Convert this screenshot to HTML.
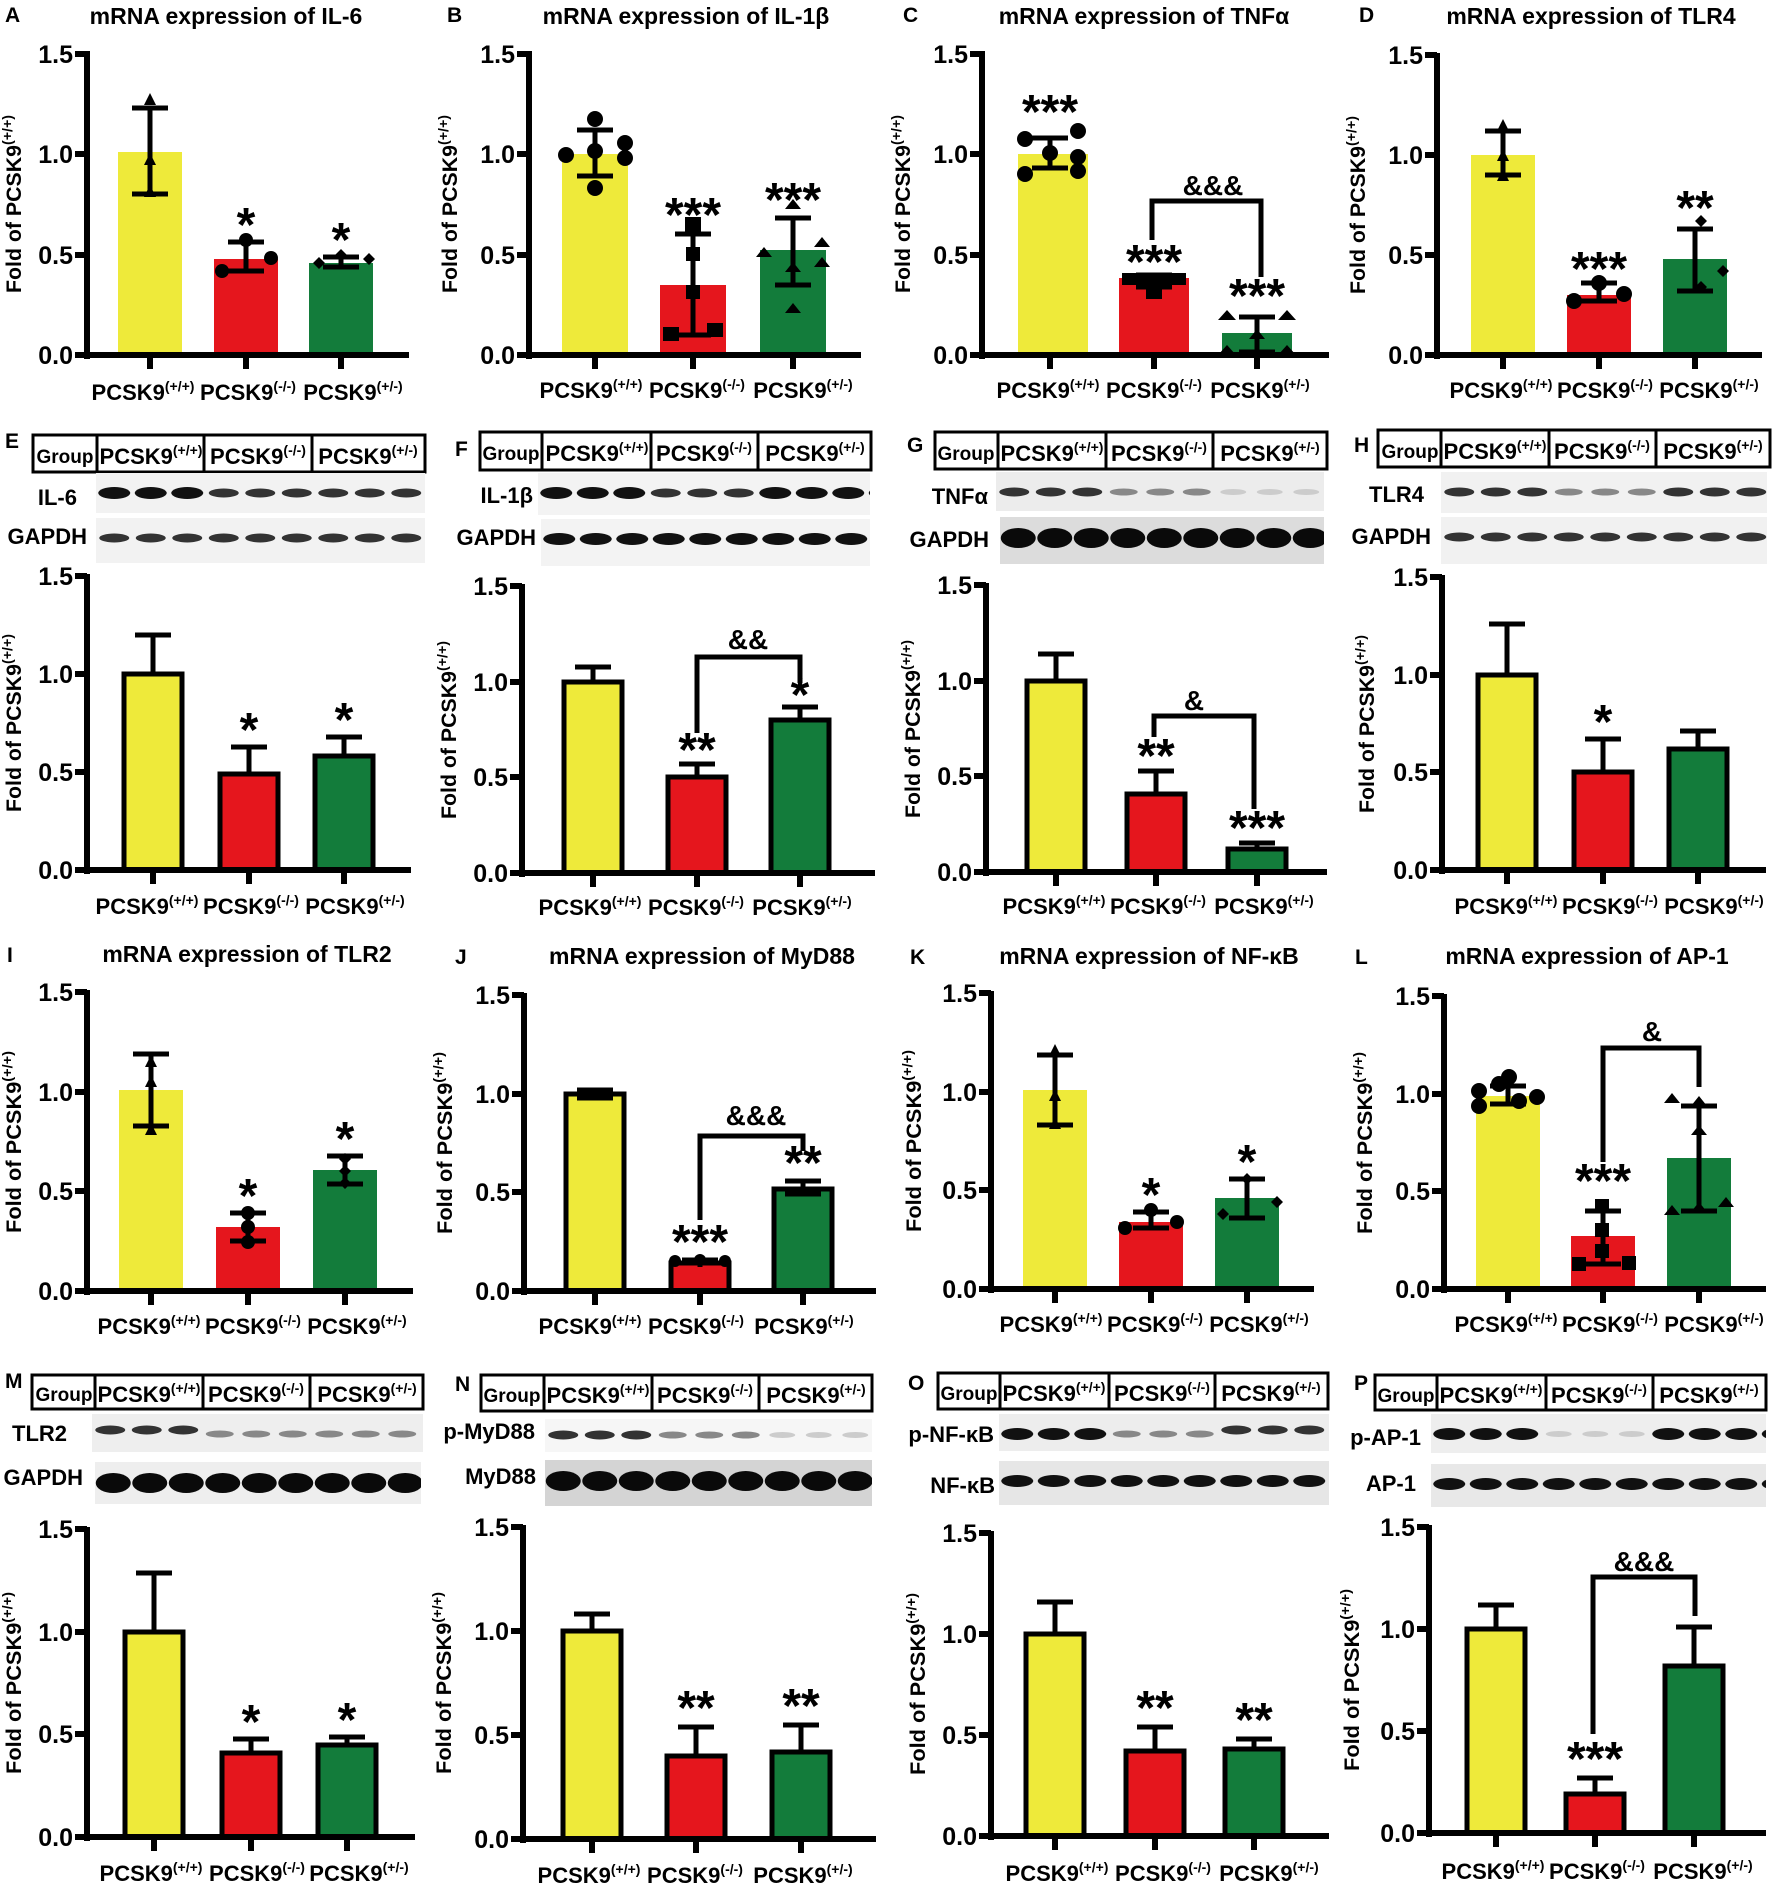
<!DOCTYPE html>
<html><head><meta charset="utf-8"><style>
html,body{margin:0;padding:0;background:#fff}
svg{display:block}
text{font-family:"Liberation Sans",sans-serif;font-weight:bold;fill:#000}
.k{stroke:#000;stroke-width:6;fill:none}
.e{stroke:#000;stroke-width:5;fill:none}
.y{fill:#eeea3a}.r{fill:#e5161d}.g{fill:#137c3b}
.o{stroke:#000;stroke-width:5}
.tl{font-size:25px;text-anchor:end}
.xl{font-size:22px;text-anchor:middle}
.s{font-size:14px}
.yl{font-size:21px;text-anchor:middle}
.st{font-size:48px;text-anchor:middle;transform:translateY(-7px)}
.am{font-size:28px;text-anchor:middle}
.ti{font-size:23px;text-anchor:middle}
.lt{font-size:21px}
.tb{font-size:22px;text-anchor:middle}
.gr{font-size:19px;text-anchor:middle}
.bl{font-size:22px;text-anchor:end}
.tbox{fill:none;stroke:#000;stroke-width:3}
</style></head><body>
<svg width="1772" height="1886" viewBox="0 0 1772 1886" xmlns="http://www.w3.org/2000/svg">
<defs>
<pattern id="pd" width="36.5" height="200" patternUnits="userSpaceOnUse"><ellipse cx="18.25" cy="20" rx="16" ry="6" fill="#111"/></pattern>
<pattern id="pm" width="36.5" height="200" patternUnits="userSpaceOnUse"><ellipse cx="18.25" cy="20" rx="15" ry="4.5" fill="#333"/></pattern>
<pattern id="pl" width="36.5" height="200" patternUnits="userSpaceOnUse"><ellipse cx="18.25" cy="20" rx="14" ry="3.5" fill="#888"/></pattern>
<pattern id="pv" width="36.5" height="200" patternUnits="userSpaceOnUse"><ellipse cx="18.25" cy="20" rx="13" ry="3" fill="#ccc"/></pattern>
<pattern id="pg" width="36.5" height="200" patternUnits="userSpaceOnUse"><ellipse cx="18.25" cy="21" rx="17.5" ry="10" fill="#0a0a0a"/></pattern>
</defs>

<text class="lt" x="5" y="22">A</text><text class="ti" x="226" y="24">mRNA expression of IL-6</text>
<text class="lt" x="447" y="22">B</text><text class="ti" x="686" y="24">mRNA expression of IL-1β</text>
<text class="lt" x="903" y="22">C</text><text class="ti" x="1144" y="24">mRNA expression of TNFα</text>
<text class="lt" x="1359" y="22">D</text><text class="ti" x="1591" y="24">mRNA expression of TLR4</text>
<text class="lt" x="5" y="448">E</text><text class="lt" x="455" y="456">F</text><text class="lt" x="907" y="452">G</text><text class="lt" x="1354" y="452">H</text>
<text class="lt" x="7" y="962">I</text><text class="ti" x="247" y="962">mRNA expression of TLR2</text>
<text class="lt" x="455" y="964">J</text><text class="ti" x="702" y="964">mRNA expression of MyD88</text>
<text class="lt" x="910" y="964">K</text><text class="ti" x="1149" y="964">mRNA expression of NF-κB</text>
<text class="lt" x="1355" y="964">L</text><text class="ti" x="1587" y="964">mRNA expression of AP-1</text>
<text class="lt" x="5" y="1388">M</text><text class="lt" x="455" y="1391">N</text><text class="lt" x="908" y="1390">O</text><text class="lt" x="1354" y="1390">P</text>

<g>
<rect class="tbox" x="33" y="435" width="392" height="37"/><path d="M97,435V472M204,435V472M312,435V472" stroke="#000" stroke-width="3"/>
<text class="gr" x="65" y="463">Group</text>
<text class="tb" x="151" y="464">PCSK9<tspan class="s" dy="-9">(+/+)</tspan></text>
<text class="tb" x="258" y="464">PCSK9<tspan class="s" dy="-9">(-/-)</tspan></text>
<text class="tb" x="368" y="464">PCSK9<tspan class="s" dy="-9">(+/-)</tspan></text>
<g transform="translate(96,473)"><rect width="329" height="40" fill="#f2f2f2"/><rect width="109.5" height="40" fill="url(#pd)"/><rect x="109.5" width="109.5" height="40" fill="url(#pm)"/><rect x="219" width="110" height="40" fill="url(#pm)"/></g>
<g transform="translate(96,518)"><rect width="329" height="45" fill="#f2f2f2"/><rect width="329" height="45" fill="url(#pm)"/></g>
<text class="bl" x="77" y="505">IL-6</text><text class="bl" x="87" y="544">GAPDH</text>
</g>
<g>
<rect class="tbox" x="480" y="432" width="391" height="38"/><path d="M542,432V470M651,432V470M758,432V470" stroke="#000" stroke-width="3"/>
<text class="gr" x="511" y="460">Group</text>
<text class="tb" x="597" y="461">PCSK9<tspan class="s" dy="-9">(+/+)</tspan></text>
<text class="tb" x="704" y="461">PCSK9<tspan class="s" dy="-9">(-/-)</tspan></text>
<text class="tb" x="815" y="461">PCSK9<tspan class="s" dy="-9">(+/-)</tspan></text>
<g transform="translate(538,473)"><rect width="332" height="42" fill="#f3f3f3"/><rect width="109.5" height="42" fill="url(#pd)"/><rect x="109.5" width="109.5" height="42" fill="url(#pm)"/><rect x="219" width="113" height="42" fill="url(#pd)"/></g>
<g transform="translate(541,519)"><rect width="329" height="47" fill="#f3f3f3"/><rect width="329" height="47" fill="url(#pd)"/></g>
<text class="bl" x="533" y="503">IL-1β</text><text class="bl" x="536" y="545">GAPDH</text>
</g>
<g>
<rect class="tbox" x="935" y="432" width="392" height="37"/><path d="M998,432V469M1106,432V469M1213,432V469" stroke="#000" stroke-width="3"/>
<text class="gr" x="966" y="460">Group</text>
<text class="tb" x="1052" y="461">PCSK9<tspan class="s" dy="-9">(+/+)</tspan></text>
<text class="tb" x="1159" y="461">PCSK9<tspan class="s" dy="-9">(-/-)</tspan></text>
<text class="tb" x="1270" y="461">PCSK9<tspan class="s" dy="-9">(+/-)</tspan></text>
<g transform="translate(996,472)"><rect width="328" height="39" fill="#ececec"/><rect width="109.5" height="39" fill="url(#pm)"/><rect x="109.5" width="109.5" height="39" fill="url(#pl)"/><rect x="219" width="109" height="39" fill="url(#pv)"/></g>
<g transform="translate(1000,517)"><rect width="324" height="47" fill="#dcdcdc"/><rect width="324" height="47" fill="url(#pg)"/></g>
<text class="bl" x="988" y="504">TNFα</text><text class="bl" x="989" y="547">GAPDH</text>
</g>
<g>
<rect class="tbox" x="1378" y="430" width="392" height="37"/><path d="M1441,430V467M1549,430V467M1656,430V467" stroke="#000" stroke-width="3"/>
<text class="gr" x="1410" y="458">Group</text>
<text class="tb" x="1495" y="459">PCSK9<tspan class="s" dy="-9">(+/+)</tspan></text>
<text class="tb" x="1602" y="459">PCSK9<tspan class="s" dy="-9">(-/-)</tspan></text>
<text class="tb" x="1713" y="459">PCSK9<tspan class="s" dy="-9">(+/-)</tspan></text>
<g transform="translate(1441,472)"><rect width="326" height="41" fill="#f1f1f1"/><rect width="109.5" height="41" fill="url(#pm)"/><rect x="109.5" width="109.5" height="41" fill="url(#pl)"/><rect x="219" width="107" height="41" fill="url(#pm)"/></g>
<g transform="translate(1441,517)"><rect width="326" height="47" fill="#f1f1f1"/><rect width="326" height="47" fill="url(#pm)"/></g>
<text class="bl" x="1424" y="502">TLR4</text><text class="bl" x="1431" y="544">GAPDH</text>
</g>
<g>
<rect class="tbox" x="32" y="1375" width="391" height="34"/><path d="M95,1375V1409M203,1375V1409M310,1375V1409" stroke="#000" stroke-width="3"/>
<text class="gr" x="64" y="1401">Group</text>
<text class="tb" x="149" y="1402">PCSK9<tspan class="s" dy="-9">(+/+)</tspan></text>
<text class="tb" x="256" y="1402">PCSK9<tspan class="s" dy="-9">(-/-)</tspan></text>
<text class="tb" x="367" y="1402">PCSK9<tspan class="s" dy="-9">(+/-)</tspan></text>
<g transform="translate(92,1414)"><rect width="331" height="38" fill="#eeeeee"/><rect width="109.5" height="38" fill="url(#pm)" transform="translate(0,-4)"/><rect x="109.5" width="109.5" height="38" fill="url(#pl)"/><rect x="219" width="112" height="38" fill="url(#pl)"/></g>
<g transform="translate(95,1462)"><rect width="326" height="42" fill="#eeeeee"/><rect width="326" height="42" fill="url(#pg)"/></g>
<text class="bl" x="67" y="1441">TLR2</text><text class="bl" x="83" y="1485">GAPDH</text>
</g>
<g>
<rect class="tbox" x="481" y="1375" width="391" height="36"/><path d="M544,1375V1411M652,1375V1411M759,1375V1411" stroke="#000" stroke-width="3"/>
<text class="gr" x="512" y="1402">Group</text>
<text class="tb" x="598" y="1403">PCSK9<tspan class="s" dy="-9">(+/+)</tspan></text>
<text class="tb" x="705" y="1403">PCSK9<tspan class="s" dy="-9">(-/-)</tspan></text>
<text class="tb" x="816" y="1403">PCSK9<tspan class="s" dy="-9">(+/-)</tspan></text>
<g transform="translate(545,1419)"><rect width="327" height="33" fill="#f6f6f6"/><rect width="109.5" height="33" fill="url(#pm)" transform="translate(0,-4)"/><rect x="109.5" width="109.5" height="33" fill="url(#pl)" transform="translate(0,-4)"/><rect x="219" width="108" height="33" fill="url(#pv)" transform="translate(0,-4)"/></g>
<g transform="translate(545,1460)"><rect width="327" height="46" fill="#d4d4d4"/><rect width="327" height="46" fill="url(#pg)"/></g>
<text class="bl" x="535" y="1439">p-MyD88</text><text class="bl" x="536" y="1484">MyD88</text>
</g>
<g>
<rect class="tbox" x="938" y="1373" width="390" height="36"/><path d="M1000,1373V1409M1109,1373V1409M1215,1373V1409" stroke="#000" stroke-width="3"/>
<text class="gr" x="969" y="1400">Group</text>
<text class="tb" x="1054" y="1401">PCSK9<tspan class="s" dy="-9">(+/+)</tspan></text>
<text class="tb" x="1162" y="1401">PCSK9<tspan class="s" dy="-9">(-/-)</tspan></text>
<text class="tb" x="1271" y="1401">PCSK9<tspan class="s" dy="-9">(+/-)</tspan></text>
<g transform="translate(999,1414)"><rect width="330" height="37" fill="#ededed"/><rect width="109.5" height="37" fill="url(#pd)"/><rect x="109.5" width="109.5" height="37" fill="url(#pl)"/><rect x="219" width="111" height="37" fill="url(#pm)" transform="translate(0,-4)"/></g>
<g transform="translate(999,1461)"><rect width="330" height="44" fill="#e6e6e6"/><rect width="330" height="44" fill="url(#pd)"/></g>
<text class="bl" x="994" y="1442">p-NF-κB</text><text class="bl" x="995" y="1493">NF-κB</text>
</g>
<g>
<rect class="tbox" x="1375" y="1375" width="391" height="35"/><path d="M1437,1375V1410M1546,1375V1410M1653,1375V1410" stroke="#000" stroke-width="3"/>
<text class="gr" x="1406" y="1402">Group</text>
<text class="tb" x="1491" y="1403">PCSK9<tspan class="s" dy="-9">(+/+)</tspan></text>
<text class="tb" x="1599" y="1403">PCSK9<tspan class="s" dy="-9">(-/-)</tspan></text>
<text class="tb" x="1709" y="1403">PCSK9<tspan class="s" dy="-9">(+/-)</tspan></text>
<g transform="translate(1431,1414)"><rect width="335" height="39" fill="#eeeeee"/><rect width="109.5" height="39" fill="url(#pd)"/><rect x="109.5" width="109.5" height="39" fill="url(#pv)"/><rect x="219" width="116" height="39" fill="url(#pd)"/></g>
<g transform="translate(1431,1464)"><rect width="335" height="43" fill="#e8e8e8"/><rect width="335" height="43" fill="url(#pd)"/></g>
<text class="bl" x="1421" y="1445">p-AP-1</text><text class="bl" x="1416" y="1491">AP-1</text>
</g>

<g transform="translate(87,355)">
<rect class="y" x="31" y="-203" width="64" height="203"/><rect class="r" x="127" y="-96" width="64" height="96"/><rect class="g" x="222" y="-92" width="64" height="92"/>
<path class="e" d="M63,-161V-247M45,-161H81M45,-247H81M159,-84V-113M141,-84H177M141,-113H177M254,-88V-98M236,-88H272M236,-98H272"/>
<path d="M63,-262l6,12h-12zM63,-202l6,12h-12zM63,-170l6,12h-12z"/>
<circle cx="135" cy="-84" r="7"/><circle cx="184" cy="-97" r="7"/><circle cx="159" cy="-115" r="7"/>
<path d="M226,-92l6,-6l6,6l-6,6zM276,-96l6,-6l6,6l-6,6zM248,-100l6,-6l6,6l-6,6z"/>
<text class="st" x="159" y="-107">*</text><text class="st" x="254" y="-92">*</text>
<path class="k" d="M0,4V-304M-12,0H0M-12,-100H0M-12,-201H0M-12,-301H0M-6,0H322M63,0v14M159,0v14M254,0v14"/>
<text class="tl" x="-14" y="9">0.0</text><text class="tl" x="-14" y="-91">0.5</text><text class="tl" x="-14" y="-192">1.0</text><text class="tl" x="-14" y="-292">1.5</text>
<text class="yl" transform="translate(-66,-151) rotate(-90)" textLength="178" lengthAdjust="spacingAndGlyphs">Fold of PCSK9<tspan class="s" dy="-9">(+/+)</tspan></text>
<text class="xl" x="56" y="45">PCSK9<tspan class="s" dy="-9">(+/+)</tspan></text><text class="xl" x="161" y="45">PCSK9<tspan class="s" dy="-9">(-/-)</tspan></text><text class="xl" x="266" y="45">PCSK9<tspan class="s" dy="-9">(+/-)</tspan></text>
</g>
<g transform="translate(529,355)">
<rect class="y" x="33" y="-201" width="66" height="201"/><rect class="r" x="131" y="-70" width="66" height="70"/><rect class="g" x="231" y="-105" width="66" height="105"/>
<path class="e" d="M66,-179V-225M48,-179H84M48,-225H84M164,-20V-121M146,-20H182M146,-121H182M264,-70V-137M246,-70H282M246,-137H282"/>
<circle cx="66" cy="-236" r="8"/><circle cx="37" cy="-200" r="8"/><circle cx="66" cy="-204" r="8"/><circle cx="96" cy="-212" r="8"/><circle cx="96" cy="-197" r="8"/><circle cx="66" cy="-167" r="8"/>
<rect x="156" y="-138" width="16" height="16"/><rect x="157" y="-108" width="14" height="14"/><rect x="157" y="-70" width="14" height="14"/><rect x="134" y="-28" width="16" height="14"/><rect x="178" y="-32" width="16" height="14"/>
<path d="M264,-156l8,10h-16zM235,-108l8,10h-16zM293,-118l8,10h-16zM293,-98l8,10h-16zM264,-93l8,10h-16zM264,-52l8,10h-16z"/>
<text class="st" x="164" y="-117">***</text><text class="st" x="264" y="-132">***</text>
<path class="k" d="M0,4V-304M-12,0H0M-12,-100H0M-12,-201H0M-12,-301H0M-6,0H332M66,0v14M164,0v14M264,0v14"/>
<text class="tl" x="-14" y="9">0.0</text><text class="tl" x="-14" y="-91">0.5</text><text class="tl" x="-14" y="-192">1.0</text><text class="tl" x="-14" y="-292">1.5</text>
<text class="yl" transform="translate(-72,-151) rotate(-90)" textLength="178" lengthAdjust="spacingAndGlyphs">Fold of PCSK9<tspan class="s" dy="-9">(+/+)</tspan></text>
<text class="xl" x="62" y="43">PCSK9<tspan class="s" dy="-9">(+/+)</tspan></text><text class="xl" x="168" y="43">PCSK9<tspan class="s" dy="-9">(-/-)</tspan></text><text class="xl" x="274" y="43">PCSK9<tspan class="s" dy="-9">(+/-)</tspan></text>
</g>
<g transform="translate(982,355)">
<rect class="y" x="36" y="-201" width="70" height="201"/><rect class="r" x="137" y="-77" width="70" height="77"/><rect class="g" x="240" y="-22" width="70" height="22"/>
<path class="e" d="M68,-187V-217M50,-187H86M50,-217H86M172,-68V-80M154,-68H190M154,-80H190M275,0V-38M257,-3H293M257,-38H293"/>
<circle cx="43" cy="-216" r="8"/><circle cx="96" cy="-224" r="8"/><circle cx="68" cy="-202" r="8"/><circle cx="96" cy="-198" r="8"/><circle cx="43" cy="-181" r="8"/><circle cx="96" cy="-184" r="8"/>
<rect x="140" y="-82" width="64" height="12"/><rect x="164" y="-74" width="16" height="18"/>
<path d="M245,-45l9,10h-18zM305,-45l9,10h-18zM275,-26l8,10h-16zM245,-10l9,10h-18zM305,-10l9,10h-18z"/>
<text class="st" x="68" y="-220">***</text><text class="st" x="172" y="-70">***</text><text class="st" x="275" y="-36">***</text>
<path class="e" d="M170,-115V-154H279V-78"/><text class="am" x="231" y="-160">&amp;&amp;&amp;</text>
<path class="k" d="M0,4V-304M-12,0H0M-12,-100H0M-12,-201H0M-12,-301H0M-6,0H347M68,0v14M172,0v14M275,0v14"/>
<text class="tl" x="-14" y="9">0.0</text><text class="tl" x="-14" y="-91">0.5</text><text class="tl" x="-14" y="-192">1.0</text><text class="tl" x="-14" y="-292">1.5</text>
<text class="yl" transform="translate(-72,-151) rotate(-90)" textLength="178" lengthAdjust="spacingAndGlyphs">Fold of PCSK9<tspan class="s" dy="-9">(+/+)</tspan></text>
<text class="xl" x="66" y="43">PCSK9<tspan class="s" dy="-9">(+/+)</tspan></text><text class="xl" x="172" y="43">PCSK9<tspan class="s" dy="-9">(-/-)</tspan></text><text class="xl" x="278" y="43">PCSK9<tspan class="s" dy="-9">(+/-)</tspan></text>
</g>
<g transform="translate(1437,355)">
<rect class="y" x="34" y="-200" width="64" height="200"/><rect class="r" x="130" y="-60" width="64" height="60"/><rect class="g" x="226" y="-96" width="64" height="96"/>
<path class="e" d="M66,-180V-224M48,-180H84M48,-224H84M162,-54V-72M144,-54H180M144,-72H180M258,-64V-126M240,-64H276M240,-126H276"/>
<path d="M66,-236l6,12h-12zM66,-206l6,12h-12zM66,-186l6,12h-12z"/>
<circle cx="137" cy="-54" r="8"/><circle cx="162" cy="-72" r="8"/><circle cx="187" cy="-61" r="8"/>
<path d="M258,-134l6,-6l6,6l-6,6zM258,-68l6,-6l6,6l-6,6zM280,-84l6,-6l6,6l-6,6z"/>
<text class="st" x="162" y="-63">***</text><text class="st" x="258" y="-124">**</text>
<path class="k" d="M0,4V-302M-12,0H0M-12,-100H0M-12,-200H0M-12,-300H0M-6,0H325M66,0v14M162,0v14M258,0v14"/>
<text class="tl" x="-14" y="9">0.0</text><text class="tl" x="-14" y="-91">0.5</text><text class="tl" x="-14" y="-191">1.0</text><text class="tl" x="-14" y="-291">1.5</text>
<text class="yl" transform="translate(-72,-150) rotate(-90)" textLength="178" lengthAdjust="spacingAndGlyphs">Fold of PCSK9<tspan class="s" dy="-9">(+/+)</tspan></text>
<text class="xl" x="64" y="43">PCSK9<tspan class="s" dy="-9">(+/+)</tspan></text><text class="xl" x="168" y="43">PCSK9<tspan class="s" dy="-9">(-/-)</tspan></text><text class="xl" x="272" y="43">PCSK9<tspan class="s" dy="-9">(+/-)</tspan></text>
</g>
<g transform="translate(87,870)">
<path class="e" d="M66,-196V-235M48,-235H84M162,-96V-123M144,-123H180M257,-114V-133M239,-133H275"/>
<rect class="y o" x="37" y="-196" width="58" height="196"/><rect class="r o" x="133" y="-96" width="58" height="96"/><rect class="g o" x="228" y="-114" width="58" height="114"/>
<text class="st" x="162" y="-117">*</text><text class="st" x="257" y="-127">*</text>
<path class="k" d="M0,4V-296M-12,0H0M-12,-98H0M-12,-196H0M-12,-294H0M-6,0H324M66,0v14M162,0v14M257,0v14"/>
<text class="tl" x="-14" y="9">0.0</text><text class="tl" x="-14" y="-89">0.5</text><text class="tl" x="-14" y="-187">1.0</text><text class="tl" x="-14" y="-285">1.5</text>
<text class="yl" transform="translate(-66,-147) rotate(-90)" textLength="178" lengthAdjust="spacingAndGlyphs">Fold of PCSK9<tspan class="s" dy="-9">(+/+)</tspan></text>
<text class="xl" x="60" y="44">PCSK9<tspan class="s" dy="-9">(+/+)</tspan></text><text class="xl" x="164" y="44">PCSK9<tspan class="s" dy="-9">(-/-)</tspan></text><text class="xl" x="268" y="44">PCSK9<tspan class="s" dy="-9">(+/-)</tspan></text>
</g>
<g transform="translate(522,873)">
<path class="e" d="M71,-191V-206M53,-206H89M175,-96V-109M157,-109H193M278,-153V-166M260,-166H296"/>
<rect class="y o" x="42" y="-191" width="58" height="191"/><rect class="r o" x="146" y="-96" width="58" height="96"/><rect class="g o" x="249" y="-153" width="58" height="153"/>
<text class="st" x="175" y="-100">**</text><text class="st" x="278" y="-155">*</text>
<path class="e" d="M175,-140V-216H278V-190"/><text class="am" x="226" y="-224">&amp;&amp;</text>
<path class="k" d="M0,4V-289M-12,0H0M-12,-96H0M-12,-191H0M-12,-287H0M-6,0H353M71,0v14M175,0v14M278,0v14"/>
<text class="tl" x="-14" y="9">0.0</text><text class="tl" x="-14" y="-87">0.5</text><text class="tl" x="-14" y="-182">1.0</text><text class="tl" x="-14" y="-278">1.5</text>
<text class="yl" transform="translate(-66,-143) rotate(-90)" textLength="178" lengthAdjust="spacingAndGlyphs">Fold of PCSK9<tspan class="s" dy="-9">(+/+)</tspan></text>
<text class="xl" x="68" y="42">PCSK9<tspan class="s" dy="-9">(+/+)</tspan></text><text class="xl" x="174" y="42">PCSK9<tspan class="s" dy="-9">(-/-)</tspan></text><text class="xl" x="280" y="42">PCSK9<tspan class="s" dy="-9">(+/-)</tspan></text>
</g>
<g transform="translate(986,872)">
<path class="e" d="M70,-191V-218M52,-218H88M170,-78V-101M152,-101H188M271,-23V-29M253,-29H289"/>
<rect class="y o" x="41" y="-191" width="58" height="191"/><rect class="r o" x="141" y="-78" width="58" height="78"/><rect class="g o" x="242" y="-23" width="58" height="23"/>
<text class="st" x="170" y="-93">**</text><text class="st" x="271" y="-21">***</text>
<path class="e" d="M168,-135V-156H268V-63"/><text class="am" x="208" y="-162">&amp;</text>
<path class="k" d="M0,4V-289M-12,0H0M-12,-96H0M-12,-191H0M-12,-287H0M-6,0H341M70,0v14M170,0v14M271,0v14"/>
<text class="tl" x="-14" y="9">0.0</text><text class="tl" x="-14" y="-87">0.5</text><text class="tl" x="-14" y="-182">1.0</text><text class="tl" x="-14" y="-278">1.5</text>
<text class="yl" transform="translate(-66,-143) rotate(-90)" textLength="178" lengthAdjust="spacingAndGlyphs">Fold of PCSK9<tspan class="s" dy="-9">(+/+)</tspan></text>
<text class="xl" x="68" y="42">PCSK9<tspan class="s" dy="-9">(+/+)</tspan></text><text class="xl" x="172" y="42">PCSK9<tspan class="s" dy="-9">(-/-)</tspan></text><text class="xl" x="278" y="42">PCSK9<tspan class="s" dy="-9">(+/-)</tspan></text>
</g>
<g transform="translate(1442,870)">
<path class="e" d="M65,-195V-246M47,-246H83M161,-98V-131M143,-131H179M256,-121V-139M238,-139H274"/>
<rect class="y o" x="36" y="-195" width="58" height="195"/><rect class="r o" x="132" y="-98" width="58" height="98"/><rect class="g o" x="227" y="-121" width="58" height="121"/>
<text class="st" x="161" y="-125">*</text>
<path class="k" d="M0,4V-295M-12,0H0M-12,-98H0M-12,-195H0M-12,-293H0M-6,0H324M65,0v14M161,0v14M256,0v14"/>
<text class="tl" x="-14" y="9">0.0</text><text class="tl" x="-14" y="-89">0.5</text><text class="tl" x="-14" y="-186">1.0</text><text class="tl" x="-14" y="-284">1.5</text>
<text class="yl" transform="translate(-68,-146) rotate(-90)" textLength="178" lengthAdjust="spacingAndGlyphs">Fold of PCSK9<tspan class="s" dy="-9">(+/+)</tspan></text>
<text class="xl" x="64" y="44">PCSK9<tspan class="s" dy="-9">(+/+)</tspan></text><text class="xl" x="168" y="44">PCSK9<tspan class="s" dy="-9">(-/-)</tspan></text><text class="xl" x="272" y="44">PCSK9<tspan class="s" dy="-9">(+/-)</tspan></text>
</g>
<g transform="translate(87,1291)">
<rect class="y" x="32" y="-201" width="64" height="201"/><rect class="r" x="129" y="-64" width="64" height="64"/><rect class="g" x="226" y="-121" width="64" height="121"/>
<path class="e" d="M64,-165V-237M46,-165H82M46,-237H82M161,-50V-78M143,-50H179M143,-78H179M258,-107V-135M240,-107H276M240,-135H276"/>
<path d="M64,-236l6,12h-12zM64,-216l6,12h-12zM64,-168l6,12h-12z"/>
<circle cx="161" cy="-78" r="7"/><circle cx="161" cy="-64" r="7"/><circle cx="161" cy="-49" r="7"/>
<path d="M252,-132l6,-6l6,6l-6,6zM252,-120l6,-6l6,6l-6,6zM252,-108l6,-6l6,6l-6,6z"/>
<text class="st" x="161" y="-72">*</text><text class="st" x="258" y="-129">*</text>
<path class="k" d="M0,4V-301M-12,0H0M-12,-100H0M-12,-199H0M-12,-299H0M-6,0H326M64,0v14M161,0v14M258,0v14"/>
<text class="tl" x="-14" y="9">0.0</text><text class="tl" x="-14" y="-91">0.5</text><text class="tl" x="-14" y="-190">1.0</text><text class="tl" x="-14" y="-290">1.5</text>
<text class="yl" transform="translate(-66,-149) rotate(-90)" textLength="182" lengthAdjust="spacingAndGlyphs">Fold of  PCSK9<tspan class="s" dy="-9">(+/+)</tspan></text>
<text class="xl" x="62" y="43">PCSK9<tspan class="s" dy="-9">(+/+)</tspan></text><text class="xl" x="166" y="43">PCSK9<tspan class="s" dy="-9">(-/-)</tspan></text><text class="xl" x="270" y="43">PCSK9<tspan class="s" dy="-9">(+/-)</tspan></text>
</g>
<g transform="translate(524,1291)">
<rect class="y o" x="42" y="-197" width="58" height="197"/><rect class="r o" x="147" y="-28" width="58" height="28"/><rect class="g o" x="250" y="-102" width="58" height="102"/>
<path class="e" d="M71,-193V-201M53,-193H89M53,-201H89M176,-24V-31M158,-31H194M279,-97V-110M261,-97H297M261,-110H297"/>
<circle cx="151" cy="-30" r="6"/><circle cx="176" cy="-31" r="6"/><circle cx="201" cy="-30" r="6"/>
<text class="st" x="176" y="-26">***</text><text class="st" x="279" y="-105">**</text>
<path class="e" d="M176,-71V-155H279V-140"/><text class="am" x="232" y="-166">&amp;&amp;&amp;</text>
<path class="k" d="M0,4V-298M-12,0H0M-12,-99H0M-12,-197H0M-12,-296H0M-6,0H352M71,0v14M176,0v14M279,0v14"/>
<text class="tl" x="-14" y="9">0.0</text><text class="tl" x="-14" y="-90">0.5</text><text class="tl" x="-14" y="-188">1.0</text><text class="tl" x="-14" y="-287">1.5</text>
<text class="yl" transform="translate(-72,-148) rotate(-90)" textLength="182" lengthAdjust="spacingAndGlyphs">Fold of PCSK9<tspan class="s" dy="-9">(+/+)</tspan></text>
<text class="xl" x="66" y="43">PCSK9<tspan class="s" dy="-9">(+/+)</tspan></text><text class="xl" x="172" y="43">PCSK9<tspan class="s" dy="-9">(-/-)</tspan></text><text class="xl" x="280" y="43">PCSK9<tspan class="s" dy="-9">(+/-)</tspan></text>
</g>
<g transform="translate(991,1289)">
<rect class="y" x="32" y="-199" width="64" height="199"/><rect class="r" x="128" y="-67" width="64" height="67"/><rect class="g" x="224" y="-91" width="64" height="91"/>
<path class="e" d="M64,-164V-234M46,-164H82M46,-234H82M160,-61V-77M142,-61H178M142,-77H178M256,-71V-110M238,-71H274M238,-110H274"/>
<path d="M64,-245l6,12h-12zM64,-200l6,12h-12zM64,-172l6,12h-12z"/>
<circle cx="134" cy="-61" r="7"/><circle cx="160" cy="-79" r="7"/><circle cx="186" cy="-67" r="7"/>
<path d="M226,-75l6,-6l6,6l-6,6zM250,-110l6,-6l6,6l-6,6zM280,-87l6,-6l6,6l-6,6z"/>
<text class="st" x="160" y="-71">*</text><text class="st" x="256" y="-104">*</text>
<path class="k" d="M0,4V-298M-12,0H0M-12,-99H0M-12,-197H0M-12,-296H0M-6,0H323M64,0v14M160,0v14M256,0v14"/>
<text class="tl" x="-14" y="9">0.0</text><text class="tl" x="-14" y="-90">0.5</text><text class="tl" x="-14" y="-188">1.0</text><text class="tl" x="-14" y="-287">1.5</text>
<text class="yl" transform="translate(-70,-148) rotate(-90)" textLength="182" lengthAdjust="spacingAndGlyphs">Fold of PCSK9<tspan class="s" dy="-9">(+/+)</tspan></text>
<text class="xl" x="60" y="43">PCSK9<tspan class="s" dy="-9">(+/+)</tspan></text><text class="xl" x="164" y="43">PCSK9<tspan class="s" dy="-9">(-/-)</tspan></text><text class="xl" x="268" y="43">PCSK9<tspan class="s" dy="-9">(+/-)</tspan></text>
</g>
<g transform="translate(1444,1289)">
<rect class="y" x="32" y="-193" width="64" height="193"/><rect class="r" x="127" y="-53" width="64" height="53"/><rect class="g" x="223" y="-131" width="64" height="131"/>
<path class="e" d="M64,-185V-203M46,-185H82M46,-203H82M159,-25V-78M141,-25H177M141,-78H177M255,-78V-183M237,-78H273M237,-183H273"/>
<circle cx="35" cy="-198" r="8"/><circle cx="55" cy="-205" r="8"/><circle cx="65" cy="-212" r="8"/><circle cx="35" cy="-183" r="8"/><circle cx="75" cy="-188" r="8"/><circle cx="93" cy="-192" r="8"/>
<rect x="151" y="-90" width="14" height="14"/><rect x="151" y="-66" width="14" height="14"/><rect x="151" y="-45" width="14" height="14"/><rect x="128" y="-32" width="14" height="14"/><rect x="178" y="-33" width="14" height="14"/>
<path d="M228,-196l8,10h-16zM255,-193l8,10h-16zM255,-164l8,10h-16zM255,-87l8,10h-16zM228,-84l8,10h-16zM282,-92l8,10h-16z"/>
<text class="st" x="159" y="-85">***</text>
<path class="e" d="M159,-127V-241H255V-202"/><text class="am" x="208" y="-248">&amp;</text>
<path class="k" d="M0,4V-295M-12,0H0M-12,-98H0M-12,-195H0M-12,-293H0M-6,0H322M64,0v14M159,0v14M255,0v14"/>
<text class="tl" x="-14" y="9">0.0</text><text class="tl" x="-14" y="-89">0.5</text><text class="tl" x="-14" y="-186">1.0</text><text class="tl" x="-14" y="-284">1.5</text>
<text class="yl" transform="translate(-72,-146) rotate(-90)" textLength="182" lengthAdjust="spacingAndGlyphs">Fold of PCSK9<tspan class="s" dy="-9">(+/+)</tspan></text>
<text class="xl" x="62" y="43">PCSK9<tspan class="s" dy="-9">(+/+)</tspan></text><text class="xl" x="166" y="43">PCSK9<tspan class="s" dy="-9">(-/-)</tspan></text><text class="xl" x="270" y="43">PCSK9<tspan class="s" dy="-9">(+/-)</tspan></text>
</g>
<g transform="translate(87,1837)">
<path class="e" d="M67,-205V-264M49,-264H85M164,-84V-98M146,-98H182M260,-92V-100M242,-100H278"/>
<rect class="y o" x="38" y="-205" width="58" height="205"/><rect class="r o" x="135" y="-84" width="58" height="84"/><rect class="g o" x="231" y="-92" width="58" height="92"/>
<text class="st" x="164" y="-92">*</text><text class="st" x="260" y="-94">*</text>
<path class="k" d="M0,4V-310M-12,0H0M-12,-103H0M-12,-205H0M-12,-308H0M-6,0H328M67,0v14M164,0v14M260,0v14"/>
<text class="tl" x="-14" y="9">0.0</text><text class="tl" x="-14" y="-94">0.5</text><text class="tl" x="-14" y="-196">1.0</text><text class="tl" x="-14" y="-299">1.5</text>
<text class="yl" transform="translate(-66,-154) rotate(-90)" textLength="182" lengthAdjust="spacingAndGlyphs">Fold of PCSK9<tspan class="s" dy="-9">(+/+)</tspan></text>
<text class="xl" x="64" y="44">PCSK9<tspan class="s" dy="-9">(+/+)</tspan></text><text class="xl" x="170" y="44">PCSK9<tspan class="s" dy="-9">(-/-)</tspan></text><text class="xl" x="272" y="44">PCSK9<tspan class="s" dy="-9">(+/-)</tspan></text>
</g>
<g transform="translate(523,1839)">
<path class="e" d="M69,-208V-225M51,-225H87M173,-83V-112M155,-112H191M278,-87V-114M260,-114H296"/>
<rect class="y o" x="40" y="-208" width="58" height="208"/><rect class="r o" x="144" y="-83" width="58" height="83"/><rect class="g o" x="249" y="-87" width="58" height="87"/>
<text class="st" x="173" y="-108">**</text><text class="st" x="278" y="-110">**</text>
<path class="k" d="M0,4V-314M-12,0H0M-12,-104H0M-12,-208H0M-12,-312H0M-6,0H353M69,0v14M173,0v14M278,0v14"/>
<text class="tl" x="-14" y="9">0.0</text><text class="tl" x="-14" y="-95">0.5</text><text class="tl" x="-14" y="-199">1.0</text><text class="tl" x="-14" y="-303">1.5</text>
<text class="yl" transform="translate(-72,-156) rotate(-90)" textLength="182" lengthAdjust="spacingAndGlyphs">Fold of PCSK9<tspan class="s" dy="-9">(+/+)</tspan></text>
<text class="xl" x="66" y="44">PCSK9<tspan class="s" dy="-9">(+/+)</tspan></text><text class="xl" x="172" y="44">PCSK9<tspan class="s" dy="-9">(-/-)</tspan></text><text class="xl" x="280" y="44">PCSK9<tspan class="s" dy="-9">(+/-)</tspan></text>
</g>
<g transform="translate(991,1836)">
<path class="e" d="M64,-202V-234M46,-234H82M164,-85V-109M146,-109H182M263,-87V-97M245,-97H281"/>
<rect class="y o" x="35" y="-202" width="58" height="202"/><rect class="r o" x="135" y="-85" width="58" height="85"/><rect class="g o" x="234" y="-87" width="58" height="87"/>
<text class="st" x="164" y="-105">**</text><text class="st" x="263" y="-93">**</text>
<path class="k" d="M0,4V-305M-12,0H0M-12,-101H0M-12,-202H0M-12,-303H0M-6,0H338M64,0v14M164,0v14M263,0v14"/>
<text class="tl" x="-14" y="9">0.0</text><text class="tl" x="-14" y="-92">0.5</text><text class="tl" x="-14" y="-193">1.0</text><text class="tl" x="-14" y="-294">1.5</text>
<text class="yl" transform="translate(-66,-152) rotate(-90)" textLength="182" lengthAdjust="spacingAndGlyphs">Fold of PCSK9<tspan class="s" dy="-9">(+/+)</tspan></text>
<text class="xl" x="66" y="45">PCSK9<tspan class="s" dy="-9">(+/+)</tspan></text><text class="xl" x="172" y="45">PCSK9<tspan class="s" dy="-9">(-/-)</tspan></text><text class="xl" x="278" y="45">PCSK9<tspan class="s" dy="-9">(+/-)</tspan></text>
</g>
<g transform="translate(1429,1833)">
<path class="e" d="M67,-204V-228M49,-228H85M166,-39V-55M148,-55H184M265,-167V-206M247,-206H283"/>
<rect class="y o" x="38" y="-204" width="58" height="204"/><rect class="r o" x="137" y="-39" width="58" height="39"/><rect class="g o" x="236" y="-167" width="58" height="167"/>
<text class="st" x="166" y="-51">***</text>
<path class="e" d="M164,-99V-256H266V-217"/><text class="am" x="215" y="-262">&amp;&amp;&amp;</text>
<path class="k" d="M0,4V-308M-12,0H0M-12,-102H0M-12,-204H0M-12,-306H0M-6,0H337M67,0v14M166,0v14M265,0v14"/>
<text class="tl" x="-14" y="9">0.0</text><text class="tl" x="-14" y="-93">0.5</text><text class="tl" x="-14" y="-195">1.0</text><text class="tl" x="-14" y="-297">1.5</text>
<text class="yl" transform="translate(-70,-153) rotate(-90)" textLength="182" lengthAdjust="spacingAndGlyphs">Fold of PCSK9<tspan class="s" dy="-9">(+/+)</tspan></text>
<text class="xl" x="64" y="46">PCSK9<tspan class="s" dy="-9">(+/+)</tspan></text><text class="xl" x="168" y="46">PCSK9<tspan class="s" dy="-9">(-/-)</tspan></text><text class="xl" x="274" y="46">PCSK9<tspan class="s" dy="-9">(+/-)</tspan></text>
</g>
</svg>
</body></html>
